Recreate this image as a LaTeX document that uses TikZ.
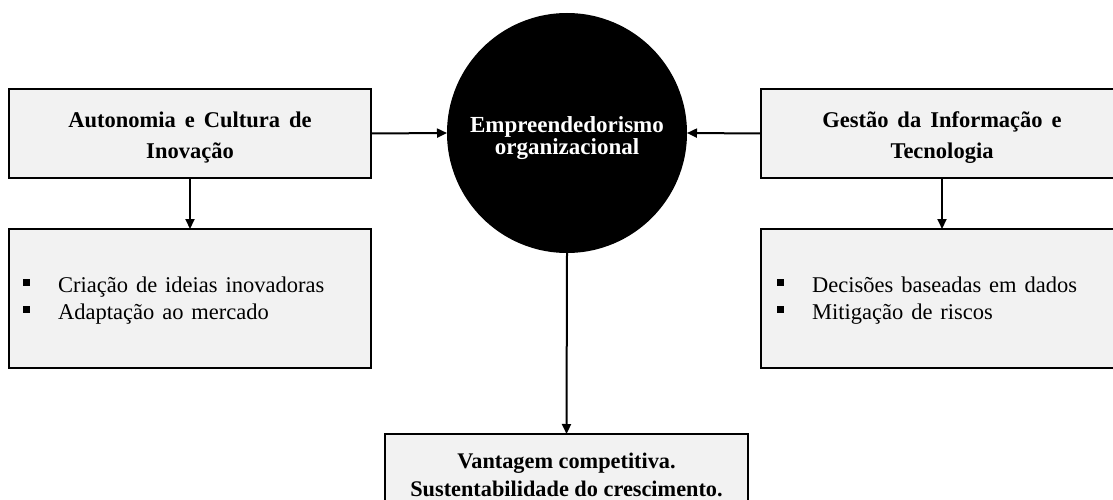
\documentclass[tikz,border=0pt]{standalone}
\usepackage{fontspec}
\setmainfont{Liberation Serif}
\usetikzlibrary{arrows.meta}
\definecolor{boxgray}{HTML}{F2F2F2}
\newcommand{\sqbul}{\makebox[35pt][l]{\rule[6.5pt]{7pt}{7pt}}}
\newcommand{\titlefont}{\fontsize{22.5}{31}\selectfont\bfseries\spaceskip=0.4em\relax}
\newcommand{\listfont}{\fontsize{22.5}{27}\selectfont\spaceskip=0.35em\relax}
\begin{document}
\begin{tikzpicture}[x=1pt,y=-1pt,
  box/.style={draw=black,line width=2.8pt,fill=boxgray,inner sep=0pt,outer sep=0pt},
  titletext/.style={font=\titlefont,align=center,inner sep=0pt},
  listtext/.style={font=\listfont,align=left,inner sep=0pt,anchor=west},
  conn/.style={line width=2pt,-{Triangle[length=10pt,width=9pt]}}]
\useasboundingbox (0,0) rectangle (1113,500);
\clip (0,0) rectangle (1113,500);
\fill[white] (0,0) rectangle (1113,500);
% top boxes
\node[box,minimum width=362pt,minimum height=89pt] (aut) at (190,133.5) {};
\node[titletext] (autt) at (190,138) {Autonomia e Cultura de\\Inovação};
\node[box,minimum width=362pt,minimum height=89pt] (ges) at (942,133.5) {};
\node[titletext] (gest) at (942,138) {Gestão da Informação e\\Tecnologia};
% circle
\node[circle,fill=black,minimum size=240pt,inner sep=0pt,outer sep=0pt] (emp) at (567,133) {};
\node[text=white,font=\fontsize{23}{20.5}\selectfont\bfseries,align=center,inner sep=0pt] (empt) at (567,138) {Empreendedorismo\\organizacional};
% list boxes
\node[box,minimum width=362pt,minimum height=139pt] (lb) at (190,298.5) {};
\node[box,minimum width=362pt,minimum height=139pt] (rb) at (942,298.5) {};
\node[listtext] (lbt) at (23,301) {\sqbul Criação de ideias inovadoras\\\sqbul Adaptação ao mercado};
\node[listtext] (rbt) at (777,301) {\sqbul Decisões baseadas em dados\\\sqbul Mitigação de riscos};
% bottom box
\node[box,minimum width=363pt,minimum height=80pt] (van) at (566.5,474) {};
\node[font=\fontsize{22.3}{28}\selectfont\bfseries,align=center,inner sep=0pt] (vant) at (566.5,475) {Vantagem competitiva.\\Sustentabilidade do crescimento.};
% connectors
\draw[conn] (aut.east) -- (emp.west);
\draw[conn] (ges.west) -- (emp.east);
\draw[conn] (emp.south) -- (van.north);
\draw[conn] (aut.south) -- (lb.north);
\draw[conn] (ges.south) -- (rb.north);
\end{tikzpicture}
\end{document}
